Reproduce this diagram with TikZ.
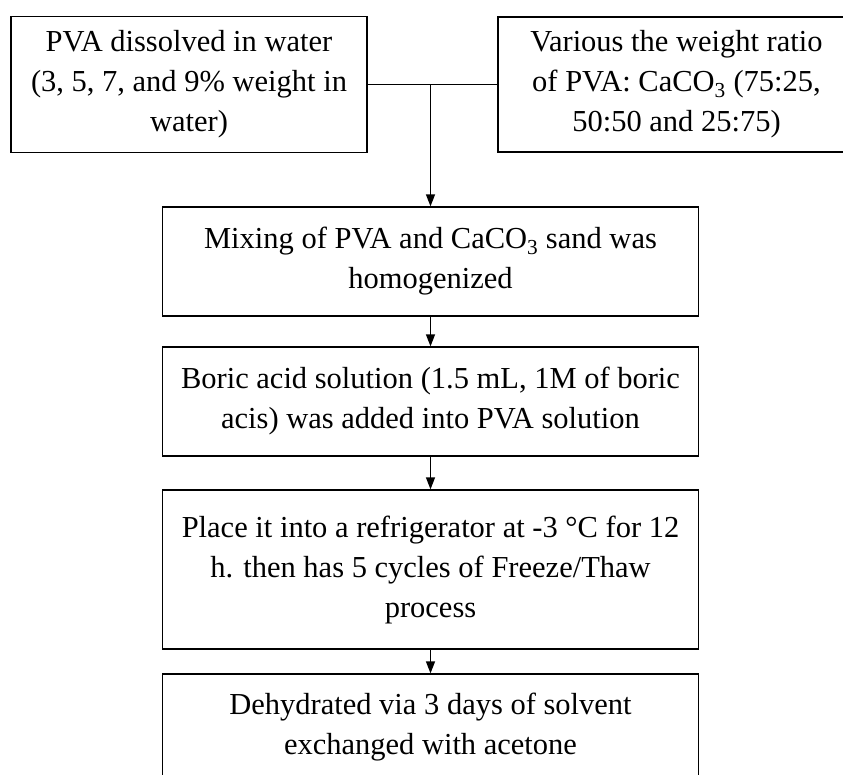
\documentclass[tikz,border=0pt]{standalone}
\usepackage{fontspec}
\setmainfont{Liberation Serif}
\usetikzlibrary{arrows.meta, positioning}

\begin{document}
\begin{tikzpicture}[x=1pt, y=-1pt, ->, >={Triangle[length=12pt, width=9pt]}, line width=1.3pt,
	box/.style={draw, rectangle, align=center, inner sep=0pt, minimum width=536pt, font=\fontsize{30.5}{40}\selectfont}]
	\clip (0,0) rectangle (843,774);
	\fill[white] (0,0) rectangle (843,774);
	
	\node[box, minimum width=356pt, minimum height=136pt] (PVA) at (189,84.5) {PVA dissolved in water\\(3, 5, 7, and 9\% weight in\\water)};
	\node[box, minimum width=357pt, minimum height=135pt] (Ratio) at (676.5,84.5) {Various the weight ratio\\of PVA: CaCO\textsubscript{3} (75:25,\\50:50 and 25:75)};
	\node[box, minimum height=109pt] (Mix) at (430.5,261.5) {Mixing of PVA and CaCO\textsubscript{3} sand was\\homogenized};
	\node[box, minimum height=109pt] (Boric) at (430.5,401.5) {Boric acid solution (1.5 mL, 1M of boric\\acis) was added into PVA solution};
	\node[box, minimum height=159pt] (Freeze) at (430.5,569.5) {Place it into a refrigerator at -3 °C for 12\\h. then has 5 cycles of Freeze/Thaw\\process};
	\node[box, minimum height=106pt] (Dehyd) at (430.5,727) {Dehydrated via 3 days of solvent\\exchanged with acetone};
	\coordinate (J) at (Mix.north |- PVA.east);
	
	\path (PVA.east) edge[-] (Ratio.west);
	\path (J) edge (Mix);
	\path (Mix) edge (Boric);
	\path (Boric) edge (Freeze);
	\path (Freeze) edge (Dehyd);
\end{tikzpicture}
\end{document}
